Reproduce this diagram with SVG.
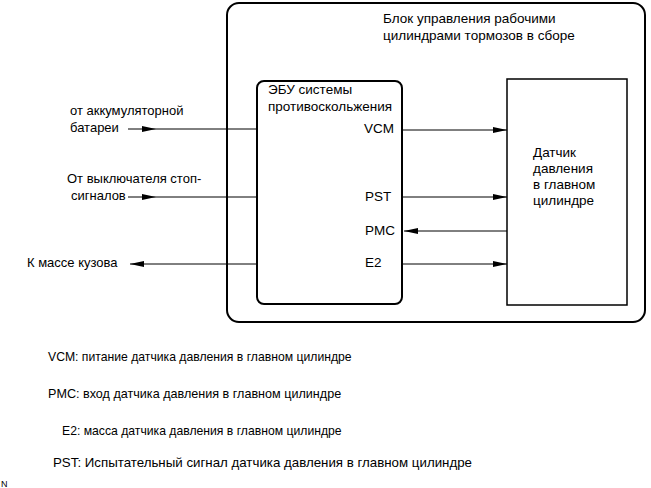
<svg xmlns="http://www.w3.org/2000/svg" width="651" height="488" viewBox="0 0 651 488">
<defs>
<marker id="ah" markerUnits="userSpaceOnUse" markerWidth="15" markerHeight="8" refX="14" refY="3" orient="auto">
<path d="M0,0 L14,3 L0,6 z" fill="#000"/>
</marker>
</defs>
<style>
text{font-family:"Liberation Sans",Arial,sans-serif;font-size:13.5px;fill:#000}
.sm{font-size:13px}
.lg{font-size:12.2px}
.box{fill:none;stroke:#000;stroke-width:2}
.ln{fill:none;stroke:#000;stroke-width:1}
</style>
<rect width="651" height="488" fill="#fff"/>
<g id="assembly">
<rect class="box" x="227" y="3" width="418" height="319" rx="12"/>
<text x="383" y="23">Блок управления рабочими</text>
<text x="383" y="40">цилиндрами тормозов в сборе</text>
</g>
<g id="ecu">
<rect class="box" x="257" y="81" width="145" height="223" rx="7"/>
<text x="268" y="94">ЭБУ системы</text>
<text x="268" y="111">противоскольжения</text>
<text x="364" y="133">VCM</text>
<text x="365" y="201">PST</text>
<text x="365" y="235">PMC</text>
<text x="365" y="267">E2</text>
</g>
<g id="sensor">
<rect x="507" y="79" width="120" height="226" fill="none" stroke="#000" stroke-width="1.5"/>
<text x="533" y="157">Датчик</text>
<text x="533" y="173">давления</text>
<text x="533" y="189">в главном</text>
<text x="533" y="205">цилиндре</text>
</g>
<g id="battery">
<text class="sm" x="70" y="115">от аккумуляторной</text>
<text class="sm" x="70" y="132">батареи</text>
</g>
<g id="stoplight">
<text class="sm" x="67" y="183">От выключателя стоп-</text>
<text class="sm" x="71" y="200">сигналов</text>
</g>
<g id="ground">
<text class="sm" x="27" y="267">К массе кузова</text>
</g>
<g id="connectors">
<path class="ln" d="M128,129 H156" marker-end="url(#ah)"/>
<path class="ln" d="M156,129 H257"/>
<path class="ln" d="M128,197 H156" marker-end="url(#ah)"/>
<path class="ln" d="M156,197 H257"/>
<path class="ln" d="M257,264 H130" marker-end="url(#ah)"/>
<path class="ln" d="M402,130 H507" marker-end="url(#ah)"/>
<path class="ln" d="M402,197 H507" marker-end="url(#ah)"/>
<path class="ln" d="M507,231 H404" marker-end="url(#ah)"/>
<path class="ln" d="M402,264 H507" marker-end="url(#ah)"/>
</g>
<g id="legend">
<text class="lg" x="48" y="361">VCM: питание датчика давления в главном цилиндре</text>
<text class="lg" x="48" y="398" style="font-size:12.6px">PMC: вход датчика давления в главном цилиндре</text>
<text class="lg" x="62" y="435">E2: масса датчика давления в главном цилиндре</text>
<text class="lg" x="53" y="467" style="font-size:13.3px">PST: Испытательный сигнал датчика давления в главном цилиндре</text>
<text x="1" y="487" style="font-size:9px">N</text>
</g>
</svg>
